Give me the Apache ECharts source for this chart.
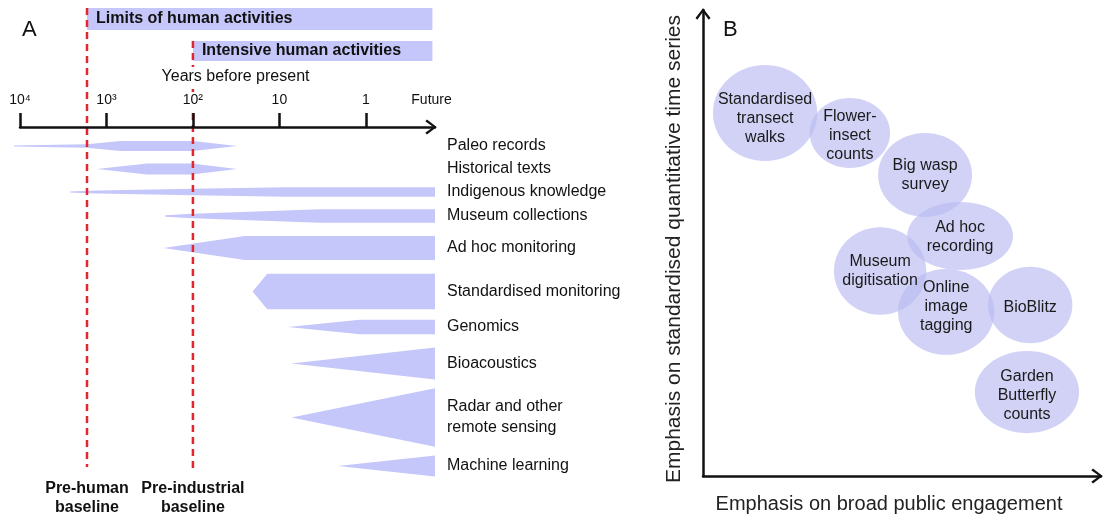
<!DOCTYPE html>
<html><head><meta charset="utf-8">
<script src="https://cdn.jsdelivr.net/npm/echarts@6/dist/echarts.min.js"></script>
<style>html,body{margin:0;padding:0;background:#fff}#c{width:1104px;height:514px}</style>
</head><body><div id="c"></div>
<script>
// ================= DATA =================
// Panel A — time axis in log10(years before present)
const tickValues = [4, 3, 2, 1, 0, -0.76];
const tickLabels = ['10\u2074', '10\u00b3', '10\u00b2', '10', '1', 'Future'];
const axisTitleA = 'Years before present';

const methods = ['Paleo records', 'Historical texts', 'Indigenous knowledge', 'Museum collections',
  'Ad hoc monitoring', 'Standardised monitoring', 'Genomics', 'Bioacoustics',
  'Radar and other\nremote sensing', 'Machine learning'];
// each profile: [log10 years before present, relative amount of data (half-thickness)]
const paleoRecords        = [[4.07, 0.4], [3.23, 1.8], [2.84, 5], [2.0, 5], [1.49, 0]];
const historicalTexts     = [[3.11, 0], [2.53, 5.5], [2.01, 5.5], [1.49, 0]];
const indigenousKnowledge = [[3.42, 0.5], [3.23, 1.3], [2.01, 3.2], [0.91, 4.8], [-0.8, 4.8]];
const museumCollections   = [[2.32, 0.8], [2.01, 2.2], [0.53, 6.7], [-0.8, 6.7]];
const adHocMonitoring     = [[2.34, 0], [1.40, 12], [-0.8, 12]];
const standardisedMonitor = [[1.31, 0], [1.14, 17.7], [-0.8, 17.7]];
const genomics            = [[0.90, 0], [0.07, 7.3], [-0.8, 7.3]];
const bioacoustics        = [[0.86, 0], [-0.8, 16]];
const radarRemoteSensing  = [[0.86, 0], [-0.8, 29.2]];
const machineLearning     = [[0.32, 0], [-0.8, 10.5]];
const profiles = [paleoRecords, historicalTexts, indigenousKnowledge, museumCollections, adHocMonitoring,
  standardisedMonitor, genomics, bioacoustics, radarRemoteSensing, machineLearning];

const activities = ['Limits of human activities', 'Intensive human activities'];
const activityStart = [3.225, 2.0];
const activityEnd = -0.77;
const baselines = ['Pre-human\nbaseline', 'Pre-industrial\nbaseline'];
const baselineValue = [3.225, 2.0];

// Panel B
const approaches = ['Standardised\ntransect\nwalks', 'Flower-\ninsect\ncounts', 'Big wasp\nsurvey',
  'Ad hoc\nrecording', 'Museum\ndigitisation', 'Online\nimage\ntagging', 'BioBlitz', 'Garden\nButterfly\ncounts'];
const publicEngagement      = [15.6, 36.9, 55.8, 64.6, 44.5, 61.1, 82.2, 81.4];
const standardisation       = [77.9, 73.6, 64.6, 51.5, 44.0, 35.2, 36.7, 18.0];
const engagementSpread      = [13.1, 10.1, 11.8, 13.3, 11.6, 12.1, 10.6, 13.1];
const standardisationSpread = [10.3, 7.5, 9.0, 7.3, 9.4, 9.2, 8.2, 8.8];
const xTitleB = 'Emphasis on broad public engagement';
const yTitleB = 'Emphasis on standardised quantitative time series';

// ================= LAYOUT / STYLE =================
const FONT = '"Liberation Sans", Arial, sans-serif';
const SHAPE = '#c5c6f9';
const BUBBLE = 'rgba(185,187,242,0.66)';
const RED = '#e3262d';
const INK = '#111';
const LAYOUT = {
  // vertical layout of panel A in y-units (px below time axis)
  rowCenter: [19, 42, 65, 89, 121, 164.5, 200, 236.5, 290.5, 339],
  barTop: [-119, -86], barBottom: [-97, -66],
  lineTop: [-119, -86], lineBottom: [340, 346], baselineLabelTop: 352,
  axisEnd: -0.8,
  // bubble label vertical nudges (px)
  bubbleLabelDy: [6, 3, 0, 1, 0, -5, 3, 3]
};
const CHEVRON = 'path://M10,0 L20,13 L17.6,15.2 L10,4.6 L2.4,15.2 L0,13 Z';

function axisLineStyle() {
  return { show: true, lineStyle: { color: INK, width: 2.5 }, symbol: ['none', CHEVRON], symbolSize: [15, 12], symbolOffset: [0, -4] };
}

function renderShape(params, api) {
  const i = params.dataIndex;
  const prof = profiles[i];
  const yc = LAYOUT.rowCenter[i];
  const top = prof.map(p => api.coord([p[0], yc - p[1]]));
  const bot = prof.slice().reverse().map(p => api.coord([p[0], yc + p[1]]));
  const endPt = api.coord([LAYOUT.axisEnd, yc]);
  return { type: 'group', children: [
    { type: 'polygon', shape: { points: top.concat(bot) }, style: { fill: SHAPE } },
    { type: 'text', style: { text: methods[i], x: endPt[0] + 12, y: endPt[1], align: 'left', verticalAlign: 'middle',
      fontSize: 16, fontFamily: FONT, fill: INK, lineHeight: 21 } }
  ]};
}
function renderActivity(params, api) {
  const i = params.dataIndex;
  const a = api.coord([activityStart[i], LAYOUT.barTop[i]]);
  const b = api.coord([activityEnd, LAYOUT.barBottom[i]]);
  return { type: 'group', children: [
    { type: 'rect', shape: { x: a[0], y: a[1], width: b[0] - a[0], height: b[1] - a[1] }, style: { fill: SHAPE } },
    { type: 'text', style: { text: activities[i], x: a[0] + 9, y: (a[1] + b[1]) / 2, align: 'left', verticalAlign: 'middle',
      fontSize: 16, fontWeight: 'bold', fontFamily: FONT, fill: INK } }
  ]};
}
function renderBaseline(params, api) {
  const i = params.dataIndex;
  const a = api.coord([baselineValue[i], LAYOUT.lineTop[i]]);
  const b = api.coord([baselineValue[i], LAYOUT.lineBottom[i]]);
  const t = api.coord([baselineValue[i], LAYOUT.baselineLabelTop]);
  return { type: 'group', children: [
    { type: 'line', shape: { x1: a[0], y1: a[1], x2: b[0], y2: b[1] }, style: { stroke: RED, lineWidth: 2.5, lineDash: [7, 5] } },
    { type: 'text', style: { text: baselines[i], x: t[0], y: t[1], align: 'center', verticalAlign: 'top',
      fontSize: 16, fontWeight: 'bold', fontFamily: FONT, fill: INK, lineHeight: 19 } }
  ]};
}
function renderBubble(params, api) {
  const i = params.dataIndex;
  const c = api.coord([publicEngagement[i], standardisation[i]]);
  const rx = api.size([engagementSpread[i], 0])[0];
  const ry = api.size([0, standardisationSpread[i]])[1];
  return { type: 'group', children: [
    { type: 'ellipse', shape: { cx: c[0], cy: c[1], rx: rx, ry: ry }, style: { fill: BUBBLE } },
    { type: 'text', z2: 10, style: { text: approaches[i], x: c[0], y: c[1] + LAYOUT.bubbleLabelDy[i], align: 'center', verticalAlign: 'middle',
      fontSize: 16, fontFamily: FONT, fill: '#1a1a1a', lineHeight: 19 } }
  ]};
}

const chart = echarts.init(document.getElementById('c'), null, { renderer: 'canvas' });
chart.setOption({
  animation: false,
  backgroundColor: '#fff',
  textStyle: { fontFamily: FONT },
  title: [
    { text: 'A', left: 22, top: 19, padding: 0, textStyle: { fontSize: 22, fontWeight: 'normal', color: INK, fontFamily: FONT } },
    { text: 'B', left: 723, top: 19, padding: 0, textStyle: { fontSize: 22, fontWeight: 'normal', color: INK, fontFamily: FONT } }
  ],
  grid: [
    { left: 20, top: 127, width: 415, height: 387, outerBoundsMode: 'none' },
    { left: 703, top: 10, width: 398, height: 466, outerBoundsMode: 'none' }
  ],
  xAxis: [
    { gridIndex: 0, type: 'value', position: 'top', inverse: true, min: LAYOUT.axisEnd, max: 4, z: 10,
      axisLine: axisLineStyle(),
      axisTick: { show: true, customValues: tickValues.slice(0, 5), length: 14, lineStyle: { color: INK, width: 2.5 } },
      axisLabel: { show: true, customValues: tickValues, margin: 19, fontSize: 14, color: INK, fontFamily: FONT,
        backgroundColor: '#fff', padding: [1, 2, 1, 2],
        formatter: v => tickLabels[tickValues.indexOf(v)] },
      splitLine: { show: false },
      name: axisTitleA, nameLocation: 'middle', nameGap: 40,
      nameTextStyle: { fontSize: 16, color: INK, fontFamily: FONT, backgroundColor: '#fff', padding: [2, 2, 2, 18] } },
    { gridIndex: 1, type: 'value', min: 0, max: 100,
      axisLine: axisLineStyle(), axisTick: { show: false }, axisLabel: { show: false }, splitLine: { show: false },
      name: xTitleB, nameLocation: 'middle', nameGap: 18,
      nameTextStyle: { fontSize: 20, color: '#222', fontFamily: FONT, padding: [0, 26, 0, 0] } }
  ],
  yAxis: [
    { gridIndex: 0, type: 'value', inverse: true, min: 0, max: 387, show: false },
    { gridIndex: 1, type: 'value', min: 0, max: 100,
      axisLine: axisLineStyle(), axisTick: { show: false }, axisLabel: { show: false }, splitLine: { show: false },
      name: yTitleB, nameLocation: 'middle', nameGap: 18,
      nameTextStyle: { fontSize: 21, color: '#222', fontFamily: FONT, padding: [0, 12, 0, 0] } }
  ],
  series: [
    { type: 'custom', xAxisIndex: 0, yAxisIndex: 0, renderItem: renderShape, clip: false,
      data: methods.map((m, i) => ({ name: m, value: [0, i] })) },
    { type: 'custom', xAxisIndex: 0, yAxisIndex: 0, renderItem: renderActivity, clip: false,
      data: activities.map((m, i) => ({ name: m, value: [activityStart[i], 0] })) },
    { type: 'custom', xAxisIndex: 0, yAxisIndex: 0, renderItem: renderBaseline, clip: false, z: 5,
      data: baselines.map((m, i) => ({ name: m, value: [baselineValue[i], 0] })) },
    { type: 'custom', xAxisIndex: 1, yAxisIndex: 1, renderItem: renderBubble, clip: false,
      data: approaches.map((m, i) => ({ name: m, value: [publicEngagement[i], standardisation[i]] })) }
  ]
});
</script></body></html>
